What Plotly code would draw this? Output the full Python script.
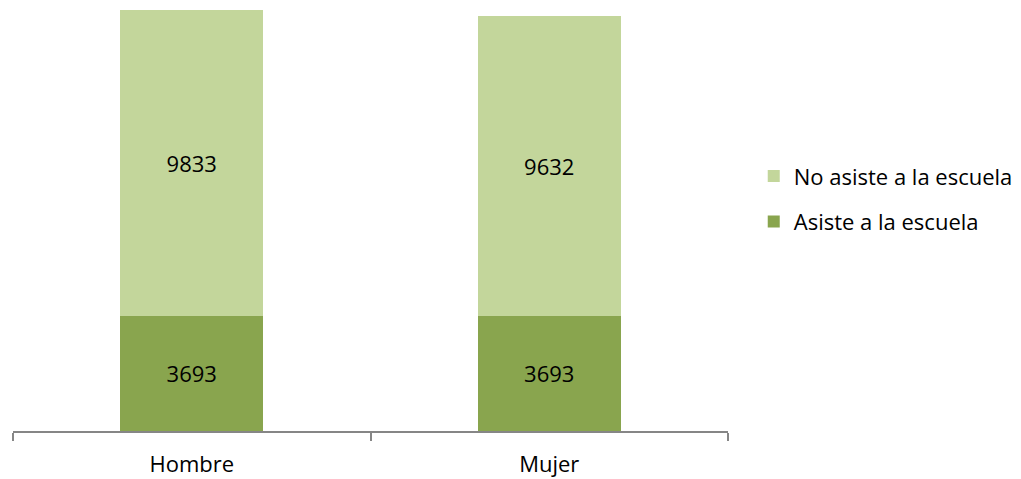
import plotly.graph_objects as go

categories = ["Hombre", "Mujer"]
asiste = [3693, 3693]
no_asiste = [9833, 9632]
series_names = ["Asiste a la escuela", "No asiste a la escuela"]
colors = ["#89A54E", "#C3D69B"]
legend_ranks = [2, 1]

FONT = "Open Sans"
FS = 22

fig = go.Figure()
for vals, name, col, rank in zip([asiste, no_asiste], series_names, colors, legend_ranks):
    fig.add_trace(go.Bar(
        x=categories, y=vals, name=name, legendgroup=name, legendrank=rank,
        marker=dict(color=col, line=dict(width=0)),
        text=[str(v) for v in vals], textposition="inside", insidetextanchor="middle",
        textfont=dict(color="black", size=FS, family=FONT), hoverinfo="skip",
    ))

fig.update_layout(
    barmode="stack", bargap=0.6,
    width=1021, height=479,
    margin=dict(l=5, r=301, t=0, b=56),
    plot_bgcolor="white", paper_bgcolor="white",
    font=dict(family=FONT, size=FS, color="black"),
    legend=dict(traceorder="grouped", x=1.036, y=0.548, yanchor="middle", xanchor="left",
                font=dict(size=FS, family=FONT), tracegroupgap=14),
    showlegend=True,
)
fig.update_xaxes(showline=True, linecolor="#868686", linewidth=2, ticks="outside",
                 tickson="boundaries", ticklen=8, tickcolor="#868686", tickwidth=2,
                 showgrid=False, tickfont=dict(size=FS), ticklabelstandoff=13)
fig.update_yaxes(range=[0, 13579], visible=False, showgrid=False)

fig.write_html("out.html")
